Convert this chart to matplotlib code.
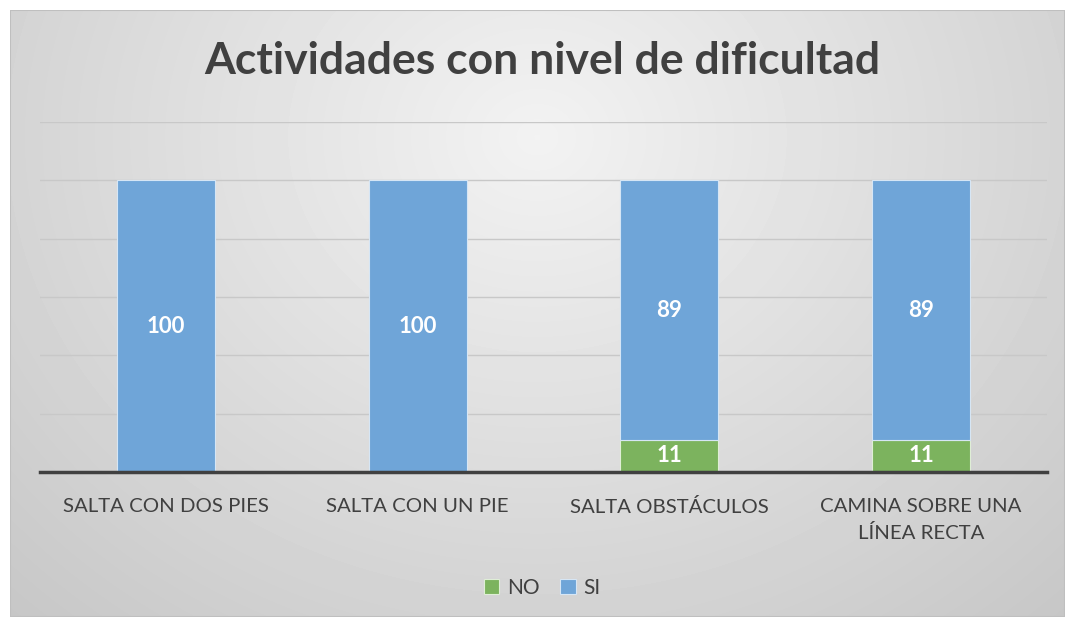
import numpy as np
import matplotlib
matplotlib.use('Agg')
import matplotlib.pyplot as plt
from matplotlib.patches import Rectangle

categories = ['SALTA CON DOS PIES', 'SALTA CON UN PIE', 'SALTA OBSTÁCULOS',
              'CAMINA SOBRE UNA\nLÍNEA RECTA']
no_vals = [0, 0, 11, 11]
si_vals = [100, 100, 89, 89]

blue = '#6fa5d8'
green = '#7cb35e'
txt = '#404040'

plt.rcParams['font.family'] = ['Lato', 'DejaVu Sans']

fig = plt.figure(figsize=(10.67, 6.19), dpi=100)
fig.patch.set_facecolor('white')

# gradient panel behind everything
bg = fig.add_axes([10/1067, 2/619, 1055/1067, 607/619], zorder=-10)
yy, xx = np.mgrid[-1:1:200j, -1:1:300j]
r = np.sqrt((xx*0.9)**2 + (yy*0.6 + 0.35)**2)
shade = 0.95 - 0.13*np.clip(r, 0, 1.3)
bg.imshow(shade, cmap='gray', vmin=0, vmax=1, aspect='auto',
          extent=(0, 1, 0, 1), interpolation='bilinear')
bg.set_xlim(0, 1); bg.set_ylim(0, 1)
bg.axis('off')
bg.add_patch(Rectangle((0, 0), 1, 1, fill=False, ec='#bfbfbf', lw=1.5,
                       transform=bg.transAxes))

ax = fig.add_axes([40/1067, 1-472/619, 1007/1067, 350/619])
ax.patch.set_alpha(0)
x = np.arange(len(categories))
w = 0.39
b1 = ax.bar(x, no_vals, w, color=green, edgecolor='#dfeed6', lw=0.8, zorder=3)
b2 = ax.bar(x, si_vals, w, bottom=no_vals, color=blue, edgecolor='#d6e6f5',
            lw=0.8, zorder=3)

for i in range(len(categories)):
    if no_vals[i]:
        ax.text(x[i], no_vals[i]/2, str(no_vals[i]), ha='center', va='center',
                color='white', fontsize=16, fontweight='bold', zorder=4)
    ax.text(x[i], no_vals[i] + si_vals[i]/2, str(si_vals[i]), ha='center',
            va='center', color='white', fontsize=16, fontweight='bold', zorder=4)

ax.set_xlim(-0.5, len(categories) - 0.5)
ax.set_ylim(0, 120)
ax.set_yticks(np.arange(0, 121, 20))
ax.yaxis.grid(True, color='#c8c8c8', lw=1, zorder=0)
ax.tick_params(left=False, labelleft=False, bottom=False)
for s in ['left', 'right', 'top']:
    ax.spines[s].set_visible(False)
ax.spines['bottom'].set_color('#404040')
ax.spines['bottom'].set_linewidth(2.5)
ax.spines['bottom'].set_zorder(5)
ax.set_xticks(x)
ax.set_xticklabels(categories, fontsize=14.7, color=txt, linespacing=1.65)
ax.tick_params(axis='x', pad=15)

fig.text(0.508, 1-61/619, 'Actividades con nivel de dificultad', ha='center',
         va='center', fontsize=32, fontweight='bold', color=txt)

leg = fig.legend([b1, b2], ['NO', 'SI'], loc='center',
                 bbox_to_anchor=(0.508, 1-588/619), ncol=2, frameon=False,
                 fontsize=15, handlelength=0.75, handleheight=0.75,
                 handletextpad=0.35, columnspacing=1.0, labelcolor=txt)

fig.savefig('out.png', dpi=100)
